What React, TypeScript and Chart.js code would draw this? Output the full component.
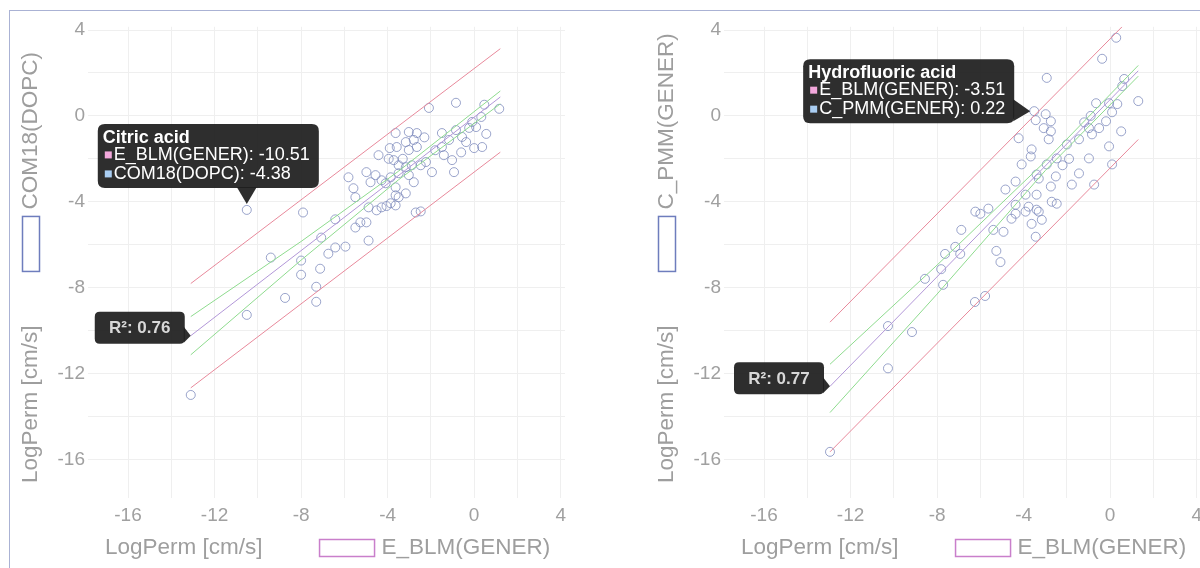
import React, { useEffect, useRef } from 'react';
import { Chart, registerables } from 'chart.js';

Chart.register(...registerables);

type P = [number, number];

// ---------- text ----------
const AXIS_TITLE = 'LogPerm [cm/s]';
const X_SERIES = 'E_BLM(GENER)';
const LEFT_Y_SERIES = 'COM18(DOPC)';
const RIGHT_Y_SERIES = 'C_PMM(GENER)';
const TICK_LABELS = [-16, -12, -8, -4, 0, 4];

// ---------- left panel data : E_BLM(GENER) vs COM18(DOPC) ----------
const LEFT_POINTS: P[] = [
  [-13.1, -13.0], [-10.51, -4.38], [-10.51, -9.27], [-9.4, -6.6], [-8.74, -8.48],
  [-8.0, -6.74], [-8.0, -7.4], [-7.91, -4.5], [-7.3, -7.96], [-7.3, -8.66],
  [-7.12, -7.12], [-7.07, -5.67], [-6.74, -6.42], [-6.42, -4.82], [-6.42, -6.13],
  [-5.95, -6.09], [-5.81, -2.86], [-5.58, -3.37], [-5.49, -3.79], [-5.49, -5.2],
  [-5.26, -4.96], [-4.98, -4.96], [-4.98, -2.62], [-4.88, -5.81], [-4.88, -4.26],
  [-4.79, -3.09], [-4.56, -2.76], [-4.51, -4.4], [-4.42, -1.83], [-4.28, -3.0],
  [-4.28, -4.26], [-4.09, -3.14], [-4.05, -4.2], [-3.95, -2.0], [-3.9, -1.5],
  [-3.86, -2.86], [-3.86, -4.07], [-3.72, -2.06], [-3.63, -0.8], [-3.63, -3.7],
  [-3.63, -4.17], [-3.63, -3.33], [-3.58, -1.45], [-3.49, -2.3], [-3.49, -2.67],
  [-3.49, -3.79], [-3.3, -2.0], [-3.16, -1.22], [-3.16, -2.39], [-3.16, -3.61],
  [-3.02, -0.75], [-3.02, -1.59], [-3.02, -2.76], [-2.88, -2.3], [-2.79, -1.12],
  [-2.79, -3.09], [-2.7, -4.5], [-2.65, -0.8], [-2.65, -1.45], [-2.47, -2.3],
  [-2.47, -4.45], [-2.3, -1.0], [-2.23, -2.15], [-2.09, 0.37], [-1.95, -2.62],
  [-1.8, -1.6], [-1.49, -0.8], [-1.49, -1.45], [-1.4, -1.83], [-1.16, -1.12],
  [-1.02, -2.06], [-0.93, -2.62], [-0.84, 0.61], [-0.84, -0.66], [-0.6, -1.7],
  [-0.56, -0.98], [-0.37, -1.22], [-0.23, -0.56], [-0.09, -0.28], [0.0, -1.5],
  [0.09, -0.52], [0.33, -0.05], [0.37, -1.45], [0.47, 0.52], [0.56, -0.84],
  [1.16, 0.33],
];
const LEFT_REG: P[] = [[-13.1, -10.24], [1.21, 0.88]];
const LEFT_CONF_UP: P[] = [[-13.1, -9.35], [-8.0, -5.85], [-3.5, -2.58], [1.21, 1.16]];
const LEFT_CONF_LO: P[] = [[-13.1, -11.13], [-8.0, -6.72], [-3.5, -2.98], [1.21, 0.56]];
const LEFT_PRED_UP: P[] = [[-13.1, -7.81], [1.21, 3.13]];
const LEFT_PRED_LO: P[] = [[-13.1, -12.67], [1.21, -1.69]];
const LEFT_TIP = { name: 'Citric acid', x: -10.51, y: -4.38 };
const LEFT_R2 = 0.76;

// ---------- right panel data : E_BLM(GENER) vs C_PMM(GENER) ----------
const RIGHT_POINTS: P[] = [
  [-12.95, -15.65], [-10.27, -9.79], [-10.27, -11.76], [-9.16, -10.07], [-8.56, -7.59],
  [-7.81, -7.14], [-7.72, -7.87], [-7.63, -6.43], [-7.16, -6.1], [-6.93, -6.43],
  [-6.88, -5.31], [-6.25, -8.67], [-6.23, -4.46], [-6.0, -4.56], [-5.78, -8.39],
  [-5.63, -4.32], [-5.4, -5.31], [-5.26, -6.29], [-5.07, -6.81], [-4.93, -5.4],
  [-4.84, -3.43], [-4.56, -4.79], [-4.37, -3.06], [-4.37, -4.14], [-4.37, -4.56],
  [-4.23, -1.04], [-4.09, -2.26], [-3.91, -3.67], [-3.91, -4.46], [-3.77, -4.23],
  [-3.67, -1.89], [-3.63, -1.56], [-3.63, -5.03], [-3.51, 0.22], [-3.44, -0.2],
  [-3.44, -5.63], [-3.4, -2.73], [-3.4, -3.67], [-3.4, -4.37], [-3.3, -2.92],
  [-3.3, -4.46], [-3.16, -4.84], [-3.07, -0.57], [-2.98, 0.08], [-2.93, 1.77],
  [-2.93, -2.26], [-2.84, -1.09], [-2.74, -0.25], [-2.74, -0.72], [-2.74, -3.29],
  [-2.7, -4.0], [-2.51, -2.82], [-2.47, -1.98], [-2.47, -4.09], [-2.2, -2.3],
  [-2.0, -1.33], [-1.9, -2.0], [-1.77, -3.2], [-1.44, -1.09], [-1.44, -2.68],
  [-1.2, -0.3], [-0.98, -0.57], [-0.98, -1.98], [-0.9, 0.0], [-0.84, -0.86],
  [-0.74, -3.2], [-0.65, 0.59], [-0.51, -0.57], [-0.37, 2.66], [-0.19, -0.25],
  [-0.05, 0.59], [-0.05, -1.42], [0.09, 0.17], [0.09, -2.26], [0.28, 3.64],
  [0.33, 0.55], [0.51, -0.72], [0.56, 1.39], [0.65, 1.72], [1.3, 0.69],
];
const RIGHT_REG: P[] = [[-12.95, -12.6], [1.3, 2.1]];
const RIGHT_CONF_UP: P[] = [[-12.95, -11.57], [-8.0, -6.95], [-3.0, -2.12], [1.3, 2.35]];
const RIGHT_CONF_LO: P[] = [[-12.95, -13.82], [-8.0, -8.3], [-3.0, -2.55], [1.3, 1.85]];
const RIGHT_PRED_UP: P[] = [[-12.95, -9.61], [0.55, 4.15]];
const RIGHT_PRED_LO: P[] = [[-12.95, -15.65], [1.3, -1.1]];
const RIGHT_TIP = { name: 'Hydrofluoric acid', x: -3.51, y: 0.22 };
const RIGHT_R2 = 0.77;

// ---------- style ----------
const FONT = '"Liberation Sans", Arial, Helvetica, sans-serif';
const TICK_COLOR = '#a0a0a0';
const TITLE_COLOR = '#9e9e9e';
const GRID_COLOR = '#efefef';
const POINT_COLOR = 'rgba(120,134,186,0.75)';
const RED = '#e8899b';
const GREEN = '#8edb8e';
const PURPLE = '#b297d8';
const X_LEG_COLOR = '#c97fcb';
const Y_LEG_COLOR = '#6e7dbd';
const TIP_BG = 'rgba(30,30,30,0.93)';
const SWATCH_X = '#f3a8dc';
const SWATCH_Y = '#a9cdf2';
const TARGET = { left: 78, top: 18, right: 555, bottom: 487 };
const CANVAS_W = 636;
const CANVAS_H = 557;

type Panel = {
  points: P[];
  reg: P[];
  confUp: P[];
  confLo: P[];
  predUp: P[];
  predLo: P[];
  ySeries: string;
  tip: { name: string; x: number; y: number };
  tipSide: 'above' | 'left';
  r2: number;
};

const LEFT_PANEL: Panel = {
  points: LEFT_POINTS, reg: LEFT_REG, confUp: LEFT_CONF_UP, confLo: LEFT_CONF_LO,
  predUp: LEFT_PRED_UP, predLo: LEFT_PRED_LO, ySeries: LEFT_Y_SERIES, tip: LEFT_TIP,
  tipSide: 'above', r2: LEFT_R2,
};
const RIGHT_PANEL: Panel = {
  points: RIGHT_POINTS, reg: RIGHT_REG, confUp: RIGHT_CONF_UP, confLo: RIGHT_CONF_LO,
  predUp: RIGHT_PRED_UP, predLo: RIGHT_PRED_LO, ySeries: RIGHT_Y_SERIES, tip: RIGHT_TIP,
  tipSide: 'left', r2: RIGHT_R2,
};

const xy = (arr: P[]) => arr.map(([x, y]) => ({ x, y }));

function roundRect(ctx: CanvasRenderingContext2D, x: number, y: number, w: number, h: number, r: number) {
  ctx.beginPath();
  ctx.moveTo(x + r, y);
  ctx.lineTo(x + w - r, y);
  ctx.quadraticCurveTo(x + w, y, x + w, y + r);
  ctx.lineTo(x + w, y + h - r);
  ctx.quadraticCurveTo(x + w, y + h, x + w - r, y + h);
  ctx.lineTo(x + r, y + h);
  ctx.quadraticCurveTo(x, y + h, x, y + h - r);
  ctx.lineTo(x, y + r);
  ctx.quadraticCurveTo(x, y, x + r, y);
  ctx.closePath();
}

function makeOverlay(panel: Panel) {
  return {
    id: 'overlay',
    afterDraw(chart: any) {
      const { ctx, chartArea: a, scales } = chart;
      const xs = scales.x;
      const ys = scales.y;
      ctx.save();

      // ----- axis titles with legend swatches -----
      ctx.font = `22.5px ${FONT}`;
      ctx.fillStyle = TITLE_COLOR;
      ctx.textBaseline = 'middle';
      ctx.textAlign = 'left';
      const w1 = ctx.measureText(AXIS_TITLE).width;
      const cx = a.left + 17;
      const cy = a.bottom + 50;
      ctx.fillText(AXIS_TITLE, cx, cy);
      let rx = cx + w1 + 57;
      ctx.lineWidth = 1.5;
      ctx.strokeStyle = X_LEG_COLOR;
      ctx.strokeRect(rx, cy - 8.5, 55, 17);
      ctx.fillText(X_SERIES, rx + 62, cy);

      ctx.save();
      ctx.translate(a.left - 57, a.bottom - 15);
      ctx.rotate(-Math.PI / 2);
      ctx.fillText(AXIS_TITLE, 0, 0);
      rx = w1 + 54;
      ctx.strokeStyle = Y_LEG_COLOR;
      ctx.strokeRect(rx, -8.5, 55, 17);
      ctx.fillText(panel.ySeries, rx + 62, 0);
      ctx.restore();

      // ----- R² box at regression start -----
      const lx = xs.getPixelForValue(panel.reg[0][0]);
      const ly = ys.getPixelForValue(panel.reg[0][1]);
      const bx1 = lx - 6;
      const bx0 = bx1 - 90;
      const by0 = ly - 24;
      const by1 = ly + 8;
      ctx.fillStyle = TIP_BG;
      roundRect(ctx, bx0, by0, bx1 - bx0, by1 - by0, 5);
      ctx.fill();
      ctx.beginPath();
      ctx.moveTo(bx1 - 1, ly - 9);
      ctx.lineTo(lx, ly);
      ctx.lineTo(bx1 - 1, ly + 7);
      ctx.closePath();
      ctx.fill();
      ctx.fillStyle = '#d8d8d8';
      ctx.font = `bold 17px ${FONT}`;
      ctx.textAlign = 'center';
      ctx.fillText(`R²: ${panel.r2.toFixed(2)}`, (bx0 + bx1) / 2, (by0 + by1) / 2 + 1);

      // ----- hover tooltip -----
      const t = panel.tip;
      const px = xs.getPixelForValue(t.x);
      const py = ys.getPixelForValue(t.y);
      const line1 = `${X_SERIES}: ${t.x.toFixed(2)}`;
      const line2 = `${panel.ySeries}: ${t.y.toFixed(2)}`;
      ctx.textAlign = 'left';
      ctx.font = `bold 18px ${FONT}`;
      const tw = ctx.measureText(t.name).width;
      ctx.font = `18px ${FONT}`;
      const lw = Math.max(ctx.measureText(line1).width, ctx.measureText(line2).width);
      const w = Math.max(tw + 5, lw + 16) + 9;
      const h = 64;
      let x0: number;
      let y0: number;
      ctx.fillStyle = TIP_BG;
      if (panel.tipSide === 'above') {
        x0 = px - 149;
        y0 = py - 86;
        roundRect(ctx, x0, y0, w, h, 7);
        ctx.fill();
        ctx.beginPath();
        ctx.moveTo(px - 10, y0 + h - 1);
        ctx.lineTo(px, py - 6);
        ctx.lineTo(px + 10, y0 + h - 1);
        ctx.closePath();
        ctx.fill();
      } else {
        const x1 = px - 20;
        x0 = x1 - w;
        y0 = py - 52;
        roundRect(ctx, x0, y0, w, h, 7);
        ctx.fill();
        ctx.beginPath();
        ctx.moveTo(x1 - 1, py - 12);
        ctx.lineTo(px - 4, py);
        ctx.lineTo(x1 - 1, py + 10);
        ctx.closePath();
        ctx.fill();
      }
      ctx.fillStyle = '#ffffff';
      ctx.font = `bold 18px ${FONT}`;
      ctx.fillText(t.name, x0 + 5, y0 + 14);
      ctx.font = `18px ${FONT}`;
      ctx.fillText(line1, x0 + 16, y0 + 31);
      ctx.fillText(line2, x0 + 16, y0 + 50);
      ctx.fillStyle = SWATCH_X;
      ctx.fillRect(x0 + 7, y0 + 27.5, 7, 7);
      ctx.fillStyle = SWATCH_Y;
      ctx.fillRect(x0 + 7, y0 + 46.5, 7, 7);

      ctx.restore();
    },
  };
}

const lineDs = (label: string, data: P[], color: string) => ({
  label,
  data: xy(data),
  showLine: true,
  borderColor: color,
  backgroundColor: color,
  borderWidth: 1,
  pointRadius: 0,
  pointHoverRadius: 0,
  fill: false,
  tension: 0,
});

function makeTicks() {
  return {
    stepSize: 2,
    includeBounds: false,
    autoSkip: false,
    maxRotation: 0,
    color: TICK_COLOR,
    font: { family: FONT, size: 19 },
    callback: (v: number) => (TICK_LABELS.some((t) => Math.abs(t - v) < 1e-6) ? String(Math.round(v)) : ''),
  };
}

function PanelChart({ panel, left }: { panel: Panel; left: number }) {
  const ref = useRef<HTMLCanvasElement | null>(null);
  useEffect(() => {
    if (!ref.current) return;
    const chart = new Chart(ref.current, {
      type: 'scatter',
      data: {
        datasets: [
          lineDs('Regression', panel.reg, PURPLE),
          lineDs('Confidence upper', panel.confUp, GREEN),
          lineDs('Confidence lower', panel.confLo, GREEN),
          lineDs('Prediction upper', panel.predUp, RED),
          lineDs('Prediction lower', panel.predLo, RED),
          {
            label: panel.ySeries,
            data: xy(panel.points),
            showLine: false,
            pointRadius: 4.5,
            pointBorderWidth: 1,
            pointBorderColor: POINT_COLOR,
            pointBackgroundColor: 'rgba(0,0,0,0)',
            borderColor: 'rgba(0,0,0,0)',
            borderWidth: 0,
            backgroundColor: 'rgba(0,0,0,0)',
          },
        ],
      } as any,
      options: {
        responsive: false,
        animation: false,
        events: [],
        layout: { padding: { left: 0, top: 5, right: 81, bottom: 40 } },
        plugins: { legend: { display: false }, tooltip: { enabled: false }, colors: { enabled: false } },
        scales: {
          x: {
            type: 'linear',
            position: 'bottom',
            min: -17.85,
            max: 4.2,
            grid: { color: GRID_COLOR, drawTicks: false },
            border: { display: false },
            ticks: { ...makeTicks(), padding: 6 },
          },
          y: {
            type: 'linear',
            position: 'left',
            min: -17.8,
            max: 4.15,
            grid: { color: GRID_COLOR, drawTicks: false },
            border: { display: false },
            ticks: { ...makeTicks(), padding: 3 },
            afterFit: (s: any) => { s.width = 78; },
          },
        },
      } as any,
      plugins: [makeOverlay(panel)],
    });
    // pin the plot area to the reference layout
    for (let i = 0; i < 3; i++) {
      const ca = chart.chartArea;
      const p: any = (chart.options as any).layout.padding;
      const np = {
        left: p.left + (TARGET.left - ca.left),
        top: p.top + (TARGET.top - ca.top),
        right: p.right + (ca.right - TARGET.right),
        bottom: p.bottom + (ca.bottom - TARGET.bottom),
      };
      (chart.options as any).layout.padding = np;
      chart.update();
    }
    return () => chart.destroy();
  }, [panel]);
  return (
    <canvas
      ref={ref}
      width={CANVAS_W}
      height={CANVAS_H}
      style={{ position: 'absolute', left, top: 0, width: CANVAS_W, height: CANVAS_H }}
    />
  );
}

export default function App() {
  return (
    <div
      style={{
        position: 'absolute',
        left: 9,
        top: 10,
        width: 1191,
        height: 558,
        boxSizing: 'border-box',
        borderTop: '1px solid #aab2d4',
        borderLeft: '1px solid #aab2d4',
        overflow: 'hidden',
        background: '#ffffff',
      }}
    >
      <PanelChart panel={LEFT_PANEL} left={0} />
      <PanelChart panel={RIGHT_PANEL} left={636} />
    </div>
  );
}
